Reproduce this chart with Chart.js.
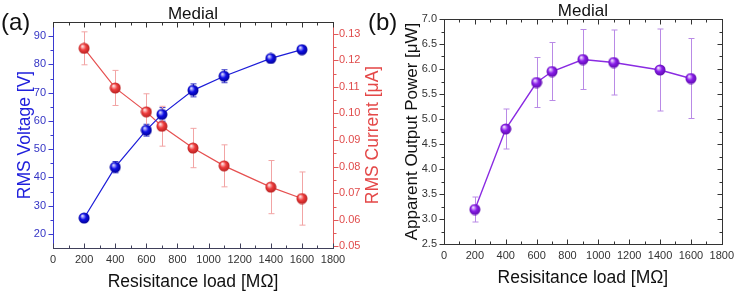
<!DOCTYPE html>
<html>
<head>
<meta charset="utf-8">
<script src="https://cdn.jsdelivr.net/npm/chart.js@4.4.1/dist/chart.umd.min.js"></script>
<style>
  body { margin: 0; background: #fff; }
  #wrap { position: relative; width: 739px; height: 293px; overflow: hidden; background: #fff; }
  #chartA { position: absolute; left: 0; top: 0; }
  #chartB { position: absolute; left: 360px; top: 0; }
</style>
</head>
<body>
<div id="wrap">
  <canvas id="chartA" width="395" height="293"></canvas>
  <canvas id="chartB" width="379" height="293"></canvas>
</div>
<script>
// values
const loads = [200, 400, 600, 700, 900, 1100, 1400, 1600];
const voltage = [25.6, 43.6, 56.7, 62.3, 70.8, 75.8, 82.1, 85.2];
const voltageErr = [0.5, 2.0, 2.1, 2.4, 2.3, 2.3, 1.1, 0.5];
const current = [0.1245, 0.1096, 0.1006, 0.0952, 0.0870, 0.0803, 0.0723, 0.0680];
const currentErr = [0.0062, 0.0066, 0.0068, 0.0075, 0.0074, 0.0079, 0.0100, 0.0100];
const power = [3.19, 4.80, 5.73, 5.95, 6.19, 6.13, 5.98, 5.81];
const powerErr = [0.25, 0.40, 0.50, 0.58, 0.60, 0.65, 0.82, 0.80];

const loadTicks = [0, 200, 400, 600, 800, 1000, 1200, 1400, 1600, 1800];
const voltTicks = [20, 30, 40, 50, 60, 70, 80, 90];
const currTicks = [0.05, 0.06, 0.07, 0.08, 0.09, 0.10, 0.11, 0.12, 0.13];
const powerTicks = [2.5, 3.0, 3.5, 4.0, 4.5, 5.0, 5.5, 6.0, 6.5, 7.0];

const FONT = "'Liberation Sans', Arial, sans-serif";
Chart.defaults.font.family = FONT;
Chart.defaults.animation = false;

function mids(arr) {
    const out = [];
    for (let i = 0; i < arr.length - 1; i++) out.push((arr[i] + arr[i + 1]) / 2);
    return out;
}

// shaded ball used as point marker
function ball(base, dark, light) {
    const c = document.createElement('canvas');
    c.width = 12; c.height = 12;
    const g = c.getContext('2d');
    const grad = g.createRadialGradient(4.2, 3.8, 0.5, 6, 6, 6);
    grad.addColorStop(0, light);
    grad.addColorStop(0.45, base);
    grad.addColorStop(1, dark);
    g.fillStyle = grad;
    g.beginPath();
    g.arc(6, 6, 5.5, 0, Math.PI * 2);
    g.fill();
    return c;
}

const errorBars = {
    id: 'errorBars',
    beforeDatasetsDraw(chart) {
        const ctx = chart.ctx;
        chart.data.datasets.forEach(function(ds) {
            if (!ds.errors) return;
            const ys = chart.scales[ds.yAxisID];
            const xs = chart.scales.x;
            ctx.save();
            ctx.strokeStyle = ds.errColor;
            ctx.lineWidth = 1;
            ctx.beginPath();
            ds.data.forEach(function(p, j) {
                const x = Math.round(xs.getPixelForValue(p.x)) + 0.5;
                const y1 = ys.getPixelForValue(p.y + ds.errors[j]);
                const y2 = ys.getPixelForValue(p.y - ds.errors[j]);
                ctx.moveTo(x, y1); ctx.lineTo(x, y2);
                ctx.moveTo(x - 3, y1); ctx.lineTo(x + 3, y1);
                ctx.moveTo(x - 3, y2); ctx.lineTo(x + 3, y2);
            });
            ctx.stroke();
            ctx.restore();
        });
    }
};

// box, tick marks and the panel texts
const frame = {
    id: 'frame',
    afterDraw(chart, args, opts) {
        const ctx = chart.ctx;
        const a = chart.chartArea;
        const L = Math.round(a.left) + 0.5, R = Math.round(a.right) + 0.5;
        const T = Math.round(a.top) + 0.5, B = Math.round(a.bottom) + 0.5;
        ctx.save();
        ctx.lineWidth = 1;
        opts.sides.forEach(function(s) {
            const sc = chart.scales[s.scale];
            ctx.strokeStyle = s.color;
            ctx.beginPath();
            const vertical = s.edge === 'left' || s.edge === 'right';
            const pos = { left: L, right: R, top: T, bottom: B }[s.edge];
            if (vertical) { ctx.moveTo(pos, T - 0.5); ctx.lineTo(pos, B + 0.5); }
            else { ctx.moveTo(L - 0.5, pos); ctx.lineTo(R + 0.5, pos); }
            [[s.major, 5], [s.minor, 3]].forEach(function(pair) {
                pair[0].forEach(function(v) {
                    const p = Math.round(sc.getPixelForValue(v)) + 0.5;
                    if (vertical) { ctx.moveTo(pos, p); ctx.lineTo(pos + s.dir * pair[1], p); }
                    else { ctx.moveTo(p, pos); ctx.lineTo(p, pos + s.dir * pair[1]); }
                });
            });
            ctx.stroke();
        });
        ctx.fillStyle = '#111';
        ctx.textBaseline = 'alphabetic';
        ctx.font = '17px ' + FONT;
        ctx.textAlign = 'center';
        ctx.fillText('Medial', (a.left + a.right) / 2, opts.titleY);
        ctx.font = '24px ' + FONT;
        ctx.textAlign = 'left';
        ctx.fillText(opts.tag, opts.tagX, 29.5);
        // right-hand axis title, read from bottom to top
        if (opts.sideTitle) {
            ctx.save();
            ctx.translate(opts.sideTitle.x, (a.top + a.bottom) / 2);
            ctx.rotate(-Math.PI / 2);
            ctx.fillStyle = opts.sideTitle.color;
            ctx.font = '17.5px ' + FONT;
            ctx.textAlign = 'center';
            ctx.textBaseline = 'middle';
            ctx.fillText(opts.sideTitle.text, 0, 0);
            ctx.restore();
        }
        ctx.restore();
    }
};

function fixWidth(w) { return function(s) { s.width = w; }; }
function fixHeight(h) { return function(s) { s.height = h; }; }
function useTicks(arr) { return function(s) { s.ticks = arr.map(function(v) { return { value: v }; }); }; }
function plain(v) { return String(v); }

const blue = '#1c1cd8', red = '#e65050', purple = '#8a2be2';

new Chart(document.getElementById('chartA'), {
    type: 'line',
    data: {
        datasets: [{
            label: 'RMS Voltage',
            data: loads.map(function(x, i) { return { x: x, y: voltage[i] }; }),
            yAxisID: 'y',
            borderColor: blue,
            borderWidth: 1.2,
            pointStyle: ball('#1010e6', '#00008c', '#d8d8ff'),
            errors: voltageErr,
            errColor: '#3a3ac8',
            order: 1
        }, {
            label: 'RMS Current',
            data: loads.map(function(x, i) { return { x: x, y: current[i] }; }),
            yAxisID: 'y1',
            borderColor: red,
            borderWidth: 1.2,
            pointStyle: ball('#ef3e3e', '#b01c1c', '#ffe0e0'),
            errors: currentErr,
            errColor: '#f2a4a4',
            order: 2
        }]
    },
    options: {
        responsive: false,
        layout: { padding: { top: 22, left: 0, right: 0, bottom: 0 } },
        plugins: {
            legend: { display: false },
            tooltip: { enabled: false },
            frame: {
                titleY: 18.5, tag: '(a)', tagX: 1,
                sideTitle: { text: 'RMS Current [μA]', color: '#e44848', x: 373.5 },
                sides: [
                    { edge: 'left', scale: 'y', color: '#3a3ad0', dir: -1, major: voltTicks, minor: mids(voltTicks) },
                    { edge: 'right', scale: 'y1', color: '#e25a5a', dir: 1, major: currTicks, minor: mids(currTicks) },
                    { edge: 'bottom', scale: 'x', color: '#40405a', dir: -1, major: loadTicks, minor: mids(loadTicks) },
                    { edge: 'top', scale: 'x', color: '#333', dir: 1, major: loadTicks, minor: mids(loadTicks) }
                ]
            }
        },
        scales: {
            x: {
                type: 'linear', min: 0, max: 1800,
                afterBuildTicks: useTicks(loadTicks),
                afterFit: fixHeight(45),
                grid: { display: false, drawTicks: false },
                border: { display: false },
                ticks: { autoSkip: false, maxRotation: 0, padding: 5, color: '#333', font: { size: 11 }, callback: plain },
                title: { display: true, text: 'Resisitance load [MΩ]', color: '#111', font: { size: 17.5 }, padding: { top: 0, bottom: 0 } }
            },
            y: {
                type: 'linear', position: 'left', min: 15, max: 95,
                afterBuildTicks: useTicks(voltTicks),
                afterFit: fixWidth(53),
                grid: { display: false, drawTicks: false },
                border: { display: false },
                ticks: { padding: 7, color: '#3434c4', font: { size: 11 }, callback: plain },
                title: { display: true, text: 'RMS Voltage [V]', color: '#2020dc', font: { size: 17.5 }, padding: { top: 14.5, bottom: 0 } }
            },
            y1: {
                type: 'linear', position: 'right', min: 0.0494, max: 0.1344,
                afterBuildTicks: useTicks(currTicks),
                afterFit: fixWidth(62),
                grid: { display: false, drawTicks: false },
                border: { display: false },
                ticks: { padding: 6, color: '#e04c4c', font: { size: 11 }, callback: function(v) { return v.toFixed(2); } },
                title: { display: false }
            }
        }
    },
    plugins: [errorBars, frame]
});

new Chart(document.getElementById('chartB'), {
    type: 'line',
    data: {
        datasets: [{
            label: 'Apparent Output Power',
            data: loads.map(function(x, i) { return { x: x, y: power[i] }; }),
            yAxisID: 'y',
            borderColor: purple,
            borderWidth: 1.4,
            pointStyle: ball('#8a1eea', '#5a0aa8', '#f0dcff'),
            errors: powerErr,
            errColor: '#b98ae6'
        }]
    },
    options: {
        responsive: false,
        layout: { padding: { top: 19, left: 0, right: 14, bottom: 0 } },
        plugins: {
            legend: { display: false },
            tooltip: { enabled: false },
            frame: {
                titleY: 15.5, tag: '(b)', tagX: 8,
                sides: [
                    { edge: 'left', scale: 'y', color: '#333', dir: -1, major: powerTicks, minor: mids(powerTicks) },
                    { edge: 'right', scale: 'y', color: '#333', dir: -1, major: powerTicks, minor: mids(powerTicks) },
                    { edge: 'bottom', scale: 'x', color: '#333', dir: -1, major: loadTicks, minor: mids(loadTicks) },
                    { edge: 'top', scale: 'x', color: '#333', dir: 1, major: loadTicks, minor: mids(loadTicks) }
                ]
            }
        },
        scales: {
            x: {
                type: 'linear', min: 0, max: 1800,
                afterBuildTicks: useTicks(loadTicks),
                afterFit: fixHeight(49),
                grid: { display: false, drawTicks: false },
                border: { display: false },
                ticks: { autoSkip: false, maxRotation: 0, padding: 5, color: '#333', font: { size: 11 }, callback: plain },
                title: { display: true, text: 'Resisitance load [MΩ]', color: '#111', font: { size: 17.5 }, padding: { top: 0, bottom: 4 } }
            },
            y: {
                type: 'linear', position: 'left', min: 2.5, max: 7.0,
                afterBuildTicks: useTicks(powerTicks),
                afterFit: fixWidth(84),
                grid: { display: false, drawTicks: false },
                border: { display: false },
                ticks: { padding: 7, color: '#333', font: { size: 11 }, callback: function(v) { return v.toFixed(1); } },
                title: { display: true, text: 'Apparent Output Power [μW]', color: '#111', font: { size: 17 }, padding: { top: 42.5, bottom: 0 } }
            }
        }
    },
    plugins: [errorBars, frame]
});
</script>
</body>
</html>
